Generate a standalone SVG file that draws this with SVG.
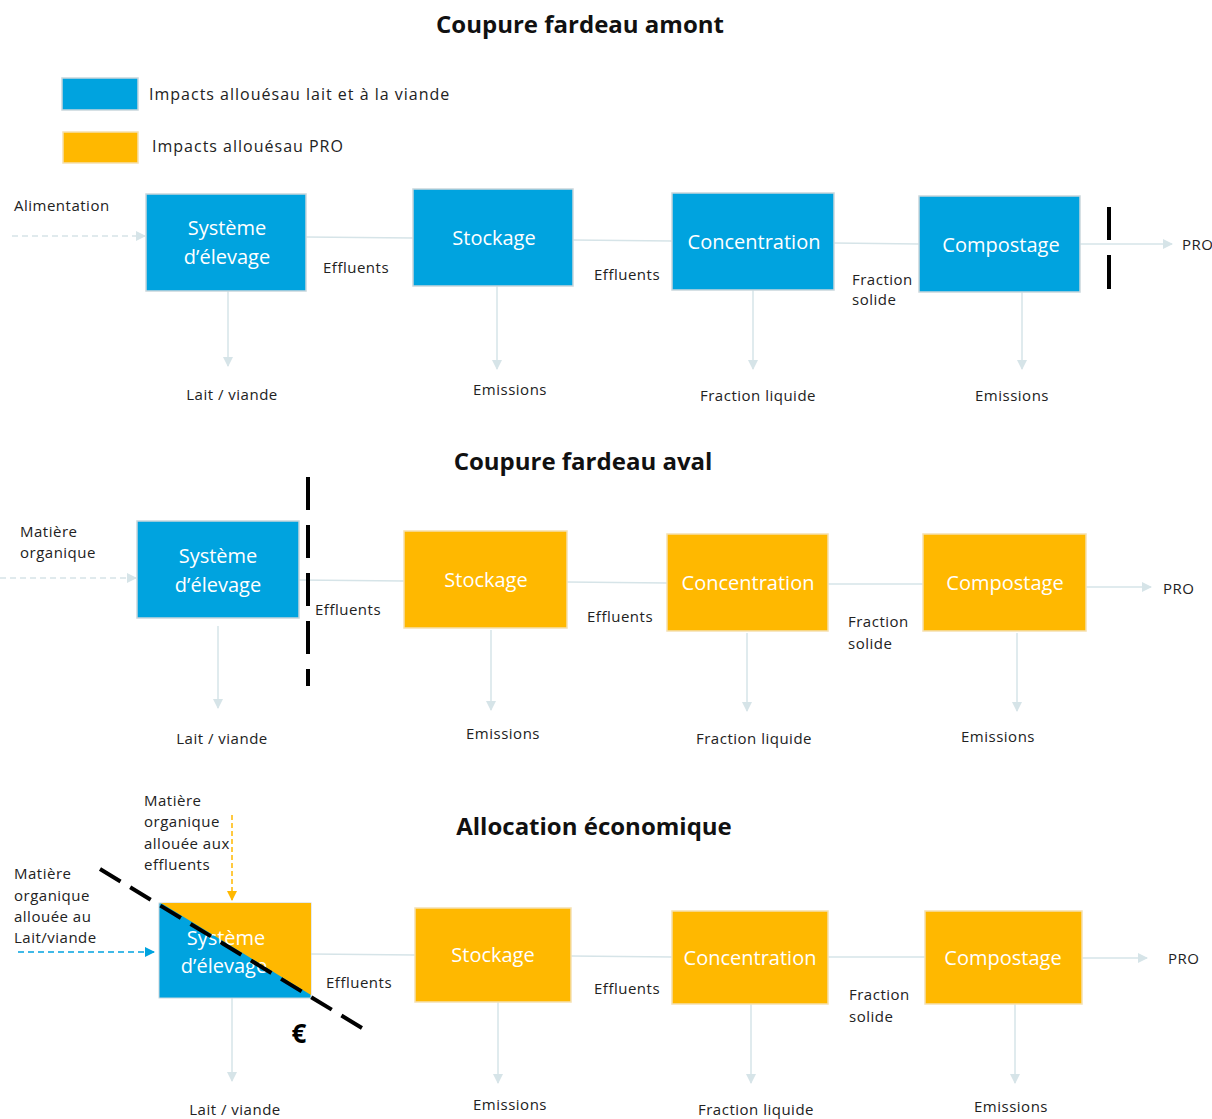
<svg xmlns="http://www.w3.org/2000/svg" width="1212" height="1119" viewBox="0 0 1212 1119">
<style>
.title{font-family:"Open Sans","Liberation Sans",sans-serif;font-weight:bold;font-size:24px;fill:#111;text-anchor:middle}
.lbl{font-family:"Open Sans","Liberation Sans",sans-serif;font-size:15px;letter-spacing:0.5px;fill:#222}
.lblm{font-family:"Open Sans","Liberation Sans",sans-serif;font-size:15px;letter-spacing:0.5px;fill:#222;text-anchor:middle}
.leg{font-family:"Open Sans","Liberation Sans",sans-serif;font-size:16px;letter-spacing:1px;fill:#222}
.bt{font-family:"Open Sans","Liberation Sans",sans-serif;font-size:20px;fill:#fff;text-anchor:middle}
.blue{fill:#00A3DF;stroke:#C9D6DC;stroke-width:1.5}
.orange{fill:#FFB800;stroke:#F5E0B0;stroke-width:1.5}
.con{stroke:#D6E4E8;stroke-width:1.5;fill:none}
.dash{stroke:#D6E4E8;stroke-width:1.5;fill:none;stroke-dasharray:6 4}
.cut{stroke:#000;stroke-width:4;fill:none}
</style>
<defs>
<marker id="ah" markerWidth="10" markerHeight="10" refX="9" refY="5" orient="auto" markerUnits="userSpaceOnUse">
<path d="M0,0 L10,5 L0,10 z" fill="#D6E4E8"/>
</marker>
<marker id="ahb" markerWidth="10" markerHeight="10" refX="9" refY="5" orient="auto" markerUnits="userSpaceOnUse">
<path d="M0,0 L10,5 L0,10 z" fill="#00A3DF"/>
</marker>
<marker id="aho" markerWidth="10" markerHeight="10" refX="9" refY="5" orient="auto" markerUnits="userSpaceOnUse">
<path d="M0,0 L10,5 L0,10 z" fill="#FFB800"/>
</marker>
</defs>

<rect width="1212" height="1119" fill="#fff"/>

<!-- Titles -->
<text class="title" x="580" y="33">Coupure fardeau amont</text>
<text class="title" x="583" y="470">Coupure fardeau aval</text>
<text class="title" x="594" y="835">Allocation économique</text>

<!-- Legend -->
<g id="legend">
<rect x="62" y="78" width="76" height="32" class="blue"/>
<text class="leg" x="149" y="100">Impacts allouésau lait et à la viande</text>
<rect x="63" y="132" width="75" height="31" class="orange"/>
<text class="leg" x="152" y="152">Impacts allouésau PRO</text>
</g>

<!-- Connectors -->
<g id="connectors">
<!-- Section 1 -->
<line class="dash" x1="12" y1="236" x2="145" y2="236" marker-end="url(#ah)"/>
<line class="con" x1="306" y1="237" x2="413" y2="238"/>
<line class="con" x1="573" y1="240" x2="672" y2="241"/>
<line class="con" x1="834" y1="243" x2="919" y2="244"/>
<line class="con" x1="1080" y1="244" x2="1172" y2="244" marker-end="url(#ah)"/>
<line class="con" x1="228" y1="291" x2="228" y2="366" marker-end="url(#ah)"/>
<line class="con" x1="497" y1="286" x2="497" y2="369" marker-end="url(#ah)"/>
<line class="con" x1="753" y1="290" x2="753" y2="369" marker-end="url(#ah)"/>
<line class="con" x1="1022" y1="292" x2="1022" y2="369" marker-end="url(#ah)"/>
<!-- Section 2 -->
<line class="dash" x1="0" y1="578" x2="136" y2="578" marker-end="url(#ah)"/>
<line class="con" x1="299" y1="580" x2="404" y2="581"/>
<line class="con" x1="567" y1="582" x2="667" y2="583"/>
<line class="con" x1="828" y1="584" x2="923" y2="584"/>
<line class="con" x1="1086" y1="587" x2="1151" y2="587" marker-end="url(#ah)"/>
<line class="con" x1="218" y1="626" x2="218" y2="708" marker-end="url(#ah)"/>
<line class="con" x1="491" y1="630" x2="491" y2="710" marker-end="url(#ah)"/>
<line class="con" x1="747" y1="633" x2="747" y2="711" marker-end="url(#ah)"/>
<line class="con" x1="1017" y1="633" x2="1017" y2="711" marker-end="url(#ah)"/>
<!-- Section 3 -->
<line x1="18" y1="952" x2="154" y2="952" stroke="#00A3DF" stroke-width="1.5" stroke-dasharray="6 4" marker-end="url(#ahb)"/>
<line x1="232" y1="815" x2="232" y2="900" stroke="#FFB800" stroke-width="1.5" stroke-dasharray="5 3" marker-end="url(#aho)"/>
<line class="con" x1="311" y1="954" x2="415" y2="955"/>
<line class="con" x1="571" y1="956" x2="672" y2="957"/>
<line class="con" x1="828" y1="957" x2="925" y2="957"/>
<line class="con" x1="1082" y1="958" x2="1147" y2="958" marker-end="url(#ah)"/>
<line class="con" x1="232" y1="998" x2="232" y2="1081" marker-end="url(#ah)"/>
<line class="con" x1="498" y1="1002" x2="498" y2="1083" marker-end="url(#ah)"/>
<line class="con" x1="751" y1="1004" x2="751" y2="1083" marker-end="url(#ah)"/>
<line class="con" x1="1015" y1="1004" x2="1015" y2="1083" marker-end="url(#ah)"/>
</g>

<!-- Section 1 nodes -->
<g id="s1-elevage"><rect x="146" y="194" width="160" height="97" class="blue"/><text class="bt" x="227" y="235">Système</text><text class="bt" x="227" y="264">d’élevage</text></g>
<g id="s1-stockage"><rect x="413" y="189" width="160" height="97" class="blue"/><text class="bt" x="494" y="245">Stockage</text></g>
<g id="s1-concentration"><rect x="672" y="193" width="162" height="97" class="blue"/><text class="bt" x="754" y="249">Concentration</text></g>
<g id="s1-compostage"><rect x="919" y="196" width="161" height="96" class="blue"/><text class="bt" x="1001" y="252">Compostage</text></g>

<!-- Section 2 nodes -->
<g id="s2-elevage"><rect x="137" y="521" width="162" height="97" class="blue"/><text class="bt" x="218" y="563">Système</text><text class="bt" x="218" y="592">d’élevage</text></g>
<g id="s2-stockage"><rect x="404" y="531" width="163" height="97" class="orange"/><text class="bt" x="486" y="587">Stockage</text></g>
<g id="s2-concentration"><rect x="667" y="534" width="161" height="97" class="orange"/><text class="bt" x="748" y="590">Concentration</text></g>
<g id="s2-compostage"><rect x="923" y="534" width="163" height="97" class="orange"/><text class="bt" x="1005" y="590">Compostage</text></g>

<!-- Section 3 nodes -->
<g id="s3-elevage">
<rect x="159" y="903" width="152" height="95" fill="#00A3DF" stroke="#C9D6DC" stroke-width="1"/>
<polygon points="161,903 311,903 311,995" fill="#FFB800"/>
<text class="bt" x="226" y="945">Système</text><text class="bt" x="224" y="973">d’élevage</text>
</g>
<g id="s3-stockage"><rect x="415" y="908" width="156" height="94" class="orange"/><text class="bt" x="493" y="962">Stockage</text></g>
<g id="s3-concentration"><rect x="672" y="911" width="156" height="93" class="orange"/><text class="bt" x="750" y="965">Concentration</text></g>
<g id="s3-compostage"><rect x="925" y="911" width="157" height="93" class="orange"/><text class="bt" x="1003" y="965">Compostage</text></g>

<!-- Cut lines -->
<g id="cuts">
<line class="cut" x1="1109" y1="207" x2="1109" y2="240"/>
<line class="cut" x1="1109" y1="255" x2="1109" y2="289"/>
<line class="cut" x1="308" y1="477" x2="308" y2="686" stroke-dasharray="33 15"/>
<line class="cut" x1="100" y1="869" x2="362" y2="1028" stroke-dasharray="24 11.3"/>
<text x="299" y="1043" font-family="Open Sans,Liberation Sans,sans-serif" font-weight="bold" font-size="26" text-anchor="middle" fill="#000">€</text>
</g>

<!-- Labels -->
<g id="labels">
<text class="lbl" x="14" y="211">Alimentation</text>
<text class="lbl" x="323" y="273">Effluents</text>
<text class="lbl" x="594" y="280">Effluents</text>
<text class="lbl" x="852" y="285">Fraction</text>
<text class="lbl" x="852" y="305">solide</text>
<text class="lbl" x="1182" y="250">PRO</text>
<text class="lblm" x="232" y="400">Lait / viande</text>
<text class="lblm" x="510" y="395">Emissions</text>
<text class="lblm" x="758" y="401">Fraction liquide</text>
<text class="lblm" x="1012" y="401">Emissions</text>

<text class="lbl" x="20" y="537">Matière</text>
<text class="lbl" x="20" y="558">organique</text>
<text class="lbl" x="315" y="615">Effluents</text>
<text class="lbl" x="587" y="622">Effluents</text>
<text class="lbl" x="848" y="627">Fraction</text>
<text class="lbl" x="848" y="649">solide</text>
<text class="lbl" x="1163" y="594">PRO</text>
<text class="lblm" x="222" y="744">Lait / viande</text>
<text class="lblm" x="503" y="739">Emissions</text>
<text class="lblm" x="754" y="744">Fraction liquide</text>
<text class="lblm" x="998" y="742">Emissions</text>

<text class="lbl" x="144" y="806">Matière</text>
<text class="lbl" x="144" y="827">organique</text>
<text class="lbl" x="144" y="849">allouée aux</text>
<text class="lbl" x="144" y="870">effluents</text>
<text class="lbl" x="14" y="879">Matière</text>
<text class="lbl" x="14" y="901">organique</text>
<text class="lbl" x="14" y="922">allouée au</text>
<text class="lbl" x="14" y="943">Lait/viande</text>
<text class="lbl" x="326" y="988">Effluents</text>
<text class="lbl" x="594" y="994">Effluents</text>
<text class="lbl" x="849" y="1000">Fraction</text>
<text class="lbl" x="849" y="1022">solide</text>
<text class="lbl" x="1168" y="964">PRO</text>
<text class="lblm" x="235" y="1115">Lait / viande</text>
<text class="lblm" x="510" y="1110">Emissions</text>
<text class="lblm" x="756" y="1115">Fraction liquide</text>
<text class="lblm" x="1011" y="1112">Emissions</text>
</g>
</svg>
